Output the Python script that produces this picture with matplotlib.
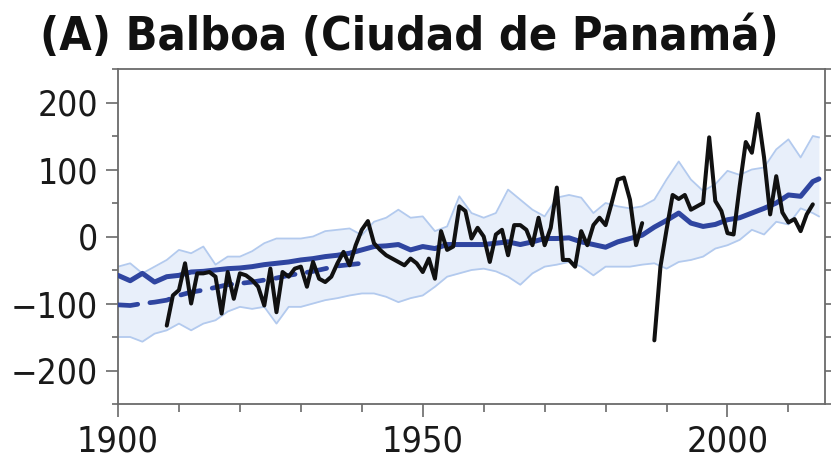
import numpy as np
import matplotlib
matplotlib.use("Agg")
import matplotlib.pyplot as plt
from matplotlib import font_manager
from matplotlib.font_manager import FontProperties
from matplotlib.ticker import MultipleLocator

# ---------------- data ----------------
model_years = list(range(1900, 2015, 2)) + [2015]
model_mean = [-58, -66, -55, -68, -60, -58, -53, -52, -50, -48,
              -47, -45, -42, -40, -38, -35, -33, -30, -28, -25,
              -20, -15, -14, -12, -20, -15, -18, -12, -12, -12,
              -12, -10, -8, -12, -8, -3, -3, -2, -8, -12,
              -16, -8, -3, 2, 14, 24, 35, 20, 15, 18,
              25, 28, 35, 42, 50, 62, 60, 82, 86]
model_upper = [-45, -40, -55, -45, -35, -20, -25, -15, -42, -30,
               -30, -22, -10, -3, -3, -3, 0, 8, 10, 12,
               2, 22, 28, 40, 28, 30, 8, 15, 60, 35,
               28, 35, 70, 55, 40, 30, 58, 62, 58, 35,
               50, 45, 42, 45, 55, 85, 112, 85, 68, 78,
               98, 92, 100, 103, 130, 145, 118, 150, 148]
model_lower = [-150, -150, -157, -145, -140, -130, -140, -130, -125, -112,
               -105, -108, -105, -130, -105, -105, -100, -95, -92, -88,
               -85, -85, -90, -98, -92, -88, -75, -60, -55, -50,
               -48, -52, -60, -72, -55, -45, -42, -38, -45, -58,
               -45, -45, -45, -42, -40, -48, -38, -35, -30, -18,
               -13, -5, 10, 3, 22, 18, 42, 35, 30]

early_years = list(range(1900, 1941, 2))
early_model = [-102, -103, -100, -98, -95, -88, -83, -80, -76, -72,
               -70, -68, -65, -62, -58, -55, -52, -48, -44, -42, -40]

gauge_years = list(range(1908, 2015))
gauge_values = [-133, -88, -80, -40, -100, -55, -55, -53, -60, -115,   # 1908-1917
                -53, -93, -55, -58, -65, -75, -103, -48, -113, -53,    # 1918-1927
                -60, -48, -45, -75, -38, -63, -68, -60, -40, -23,      # 1928-1937
                -43, -13, 10, 23, -10, -20, -28, -33, -38, -43,        # 1938-1947
                -33, -40, -53, -33, -63, 8, -20, -15, 45, 38,          # 1948-1957
                -3, 13, 0, -38, 3, 10, -28, 17, 17, 10,                # 1958-1967
                -13, 28, -13, 13, 73, -35, -35, -45, 8, -13,           # 1968-1977
                17, 28, 17, 50, 85, 88, 55, -13, 20, np.nan,           # 1978-1987
                -155, -45, 10, 62, 56, 62, 40, 45, 50, 148,            # 1988-1997
                53, 38, 5, 3, 75, 141, 125, 183, 118, 33,              # 1998-2007
                90, 36, 21, 26, 8, 33, 48]                              # 2008-2014

title = "(A) Balboa (Ciudad de Panamá)"
xticks = [1900, 1950, 2000]
xtick_labels = ["1900", "1950", "2000"]
yticks = [-200, -100, 0, 100, 200]
ytick_labels = ["\u2212200", "\u2212100", "0", "100", "200"]

# ---------------- fonts: prefer a condensed sans ----------------
def _is_condensed(f):
    n = f.name.lower()
    if "mono" in n or "serif" in n:
        return False
    if "narrow" in n or "condensed" in n:
        return True
    st = f.stretch
    if isinstance(st, str):
        return "condensed" in st
    try:
        return int(st) < 500
    except Exception:
        return False

def _weight(f):
    w = f.weight
    if isinstance(w, str):
        return {"bold": 700, "normal": 400, "regular": 400}.get(w, 400)
    return int(w)

cands = [f for f in font_manager.fontManager.ttflist
         if _is_condensed(f) and f.style == "normal"]
reg = [f for f in cands if _weight(f) < 600]
bold = [f for f in cands if _weight(f) >= 600]

def _pick(lst):
    lst = sorted(lst, key=lambda f: (0 if "liberation" in f.name.lower() else
                                     1 if "dejavu" in f.name.lower() else 2))
    return lst[0].fname if lst else None

reg_file = _pick(reg)
bold_file = _pick(bold) or reg_file

if reg_file:
    fp_reg = FontProperties(fname=reg_file)
else:
    fp_reg = FontProperties(family=["Liberation Sans", "DejaVu Sans"])
if bold_file:
    fp_bold = FontProperties(fname=bold_file)
    if bold_file == reg_file:
        fp_bold.set_weight("bold")
else:
    fp_bold = FontProperties(family=["Liberation Sans", "DejaVu Sans"], weight="bold")

DARK_BLUE = "#2f45a0"
LIGHT_FILL = "#e8effa"
LIGHT_EDGE = "#b3caee"
SPINE = "#6a6a6a"

fig = plt.figure(figsize=(8.31, 4.74), dpi=100)
ax = fig.add_axes([118 / 831, 1 - 404 / 474, (825 - 118) / 831, (404 - 69) / 474])

ax.fill_between(model_years, model_lower, model_upper, color=LIGHT_FILL, lw=0, zorder=1)
ax.plot(model_years, model_upper, color=LIGHT_EDGE, lw=1.3, zorder=2)
ax.plot(model_years, model_lower, color=LIGHT_EDGE, lw=1.3, zorder=2)
ax.plot(early_years, early_model, color=DARK_BLUE, lw=3.4, zorder=3,
        linestyle=(0, (4.2, 2.6)), solid_capstyle="round", dash_capstyle="round")
ax.plot(model_years, model_mean, color=DARK_BLUE, lw=3.6, zorder=4,
        solid_capstyle="round")
ax.plot(gauge_years, gauge_values, color="#111111", lw=2.9, zorder=5,
        solid_joinstyle="round", solid_capstyle="round")

ax.set_xlim(1900, 2016)
ax.set_ylim(-250, 250)

ax.set_xticks(xticks)
ax.set_xticklabels(xtick_labels)
ax.xaxis.set_minor_locator(MultipleLocator(10))
ax.set_yticks(yticks)
ax.set_yticklabels(ytick_labels)
ax.yaxis.set_minor_locator(MultipleLocator(50))

for s in ax.spines.values():
    s.set_color(SPINE)
    s.set_linewidth(1.3)

ax.tick_params(axis="both", which="both", direction="out", color=SPINE, width=1.2,
               labelcolor="#1a1a1a")
ax.tick_params(axis="x", which="major", length=9, pad=6)
ax.tick_params(axis="x", which="minor", length=5.5)
ax.tick_params(axis="y", which="major", length=8.5, pad=6, right=True)
ax.tick_params(axis="y", which="minor", length=4, right=True)
ax.tick_params(axis="y", which="both", labelright=False)

title_txt = fig.text(40 / 831, 1 - 38 / 474, title, fontproperties=fp_bold,
                     ha="left", va="center", color="#111111")

# size texts so that their widths match the reference (pixels)
fig.canvas.draw()
renderer = fig.canvas.get_renderer()

def _fit(texts, target_px, max_pt):
    base = 20.0
    for t in texts:
        t.set_fontsize(base)
    w = max(t.get_window_extent(renderer).width for t in texts)
    size = min(max_pt, base * target_px / w)
    for t in texts:
        t.set_fontsize(size)

ylabs = ax.get_yticklabels()
xlabs = ax.get_xticklabels()
for t in ylabs + xlabs:
    t.set_fontproperties(fp_reg)
_fit(ylabs, 87, 34)
_fit(xlabs, 82, 36)
_fit([title_txt], 740, 40)

fig.savefig("out.png", dpi=100)
